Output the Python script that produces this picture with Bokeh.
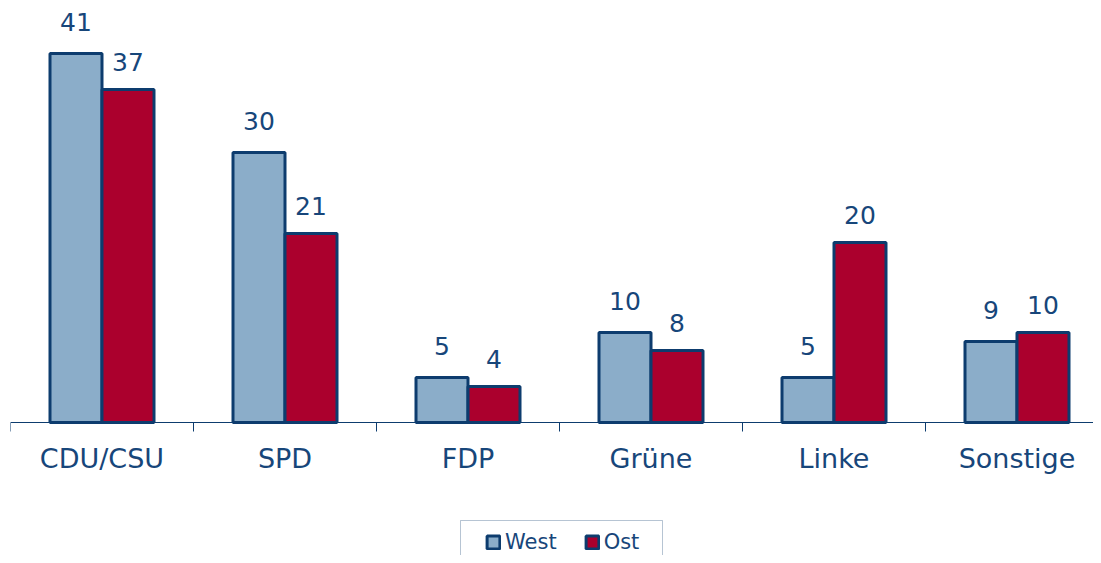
from bokeh.plotting import figure
from bokeh.models import (Range1d, LinearAxis, FixedTicker, ColumnDataSource, Legend,
                          LegendItem, BoxAnnotation)
from bokeh.embed import file_html
from bokeh.resources import INLINE
from bokeh.core.properties import value

# ---- data ----
categories = ["CDU/CSU", "SPD", "FDP", "Grüne", "Linke", "Sonstige"]
west = [41, 30, 5, 10, 5, 9]
ost = [37, 21, 4, 8, 20, 10]
series_names = ["West", "Ost"]

# ---- style ----
NAVY = "#0d3c6e"
TEXT = "#17467a"
WEST_FILL = "#8badc9"
OST_FILL = "#ab002d"
FONT = "DejaVu Sans"

W, H = 1093, 555
LEFT = 10
PX_CAT = 183.0
PX_UNIT = 9.0
AXIS_Y = 422
frame_w = W - LEFT
x_end = frame_w / PX_CAT
y_top = AXIS_Y / PX_UNIT
y_bot = -(H - AXIS_Y) / PX_UNIT

p = figure(width=W, height=H, x_range=Range1d(0, x_end), y_range=Range1d(y_bot, y_top),
           output_backend="svg", toolbar_location=None, x_axis_type=None, y_axis_type=None,
           min_border_left=LEFT, min_border_right=0, min_border_top=0, min_border_bottom=0,
           outline_line_color=None)

centers = [i + 0.5 for i in range(len(categories))]
bw = 52.0 / PX_CAT
src = ColumnDataSource(dict(
    xw=[c - bw / 2 for c in centers],
    xo=[c + bw / 2 for c in centers],
    west=west, ost=ost,
    wl=[str(v) for v in west], ol=[str(v) for v in ost],
))

rw = p.vbar(x="xw", top="west", bottom=0, width=bw, fill_color=WEST_FILL,
            line_color=NAVY, line_width=3, source=src)
ro = p.vbar(x="xo", top="ost", bottom=0, width=bw, fill_color=OST_FILL,
            line_color=NAVY, line_width=3, source=src)

p.text(x="xw", y="west", text="wl", text_align="center", text_baseline="alphabetic",
       y_offset=-32, text_font=value(FONT), text_font_size="25px", text_color=TEXT, source=src)
p.text(x="xo", y="ost", text="ol", text_align="center", text_baseline="alphabetic",
       y_offset=-28, text_font=value(FONT), text_font_size="25px", text_color=TEXT, source=src)

ax = LinearAxis(
    ticker=FixedTicker(ticks=centers, minor_ticks=list(range(len(categories)))),
    major_label_overrides={c: cat for c, cat in zip(centers, categories)},
    fixed_location=0,
    axis_line_color=NAVY, axis_line_width=1,
    major_tick_in=0, major_tick_out=0,
    minor_tick_in=0, minor_tick_out=9, minor_tick_line_color=NAVY,
    major_label_standoff=11,
    major_label_text_font=FONT, major_label_text_font_size="27px",
    major_label_text_color=TEXT,
)
p.add_layout(ax, "below")

# legend frame (open at the bottom edge, as in the original)
p.add_layout(BoxAnnotation(left=450, right=652, top=35, bottom=-20,
                           left_units="screen", right_units="screen",
                           top_units="screen", bottom_units="screen",
                           fill_alpha=0, line_color=NAVY, line_width=1))

legend = Legend(
    items=[LegendItem(label=series_names[0], renderers=[rw]),
           LegendItem(label=series_names[1], renderers=[ro])],
    orientation="horizontal", location=(464, -10),
    border_line_alpha=0, background_fill_alpha=0,
    label_text_font=FONT, label_text_font_size="21px", label_text_color=TEXT,
    glyph_width=16, glyph_height=16, padding=11, spacing=27, label_standoff=4, margin=0,
)
p.add_layout(legend)

open("out.html", "w").write(file_html(p, INLINE))
